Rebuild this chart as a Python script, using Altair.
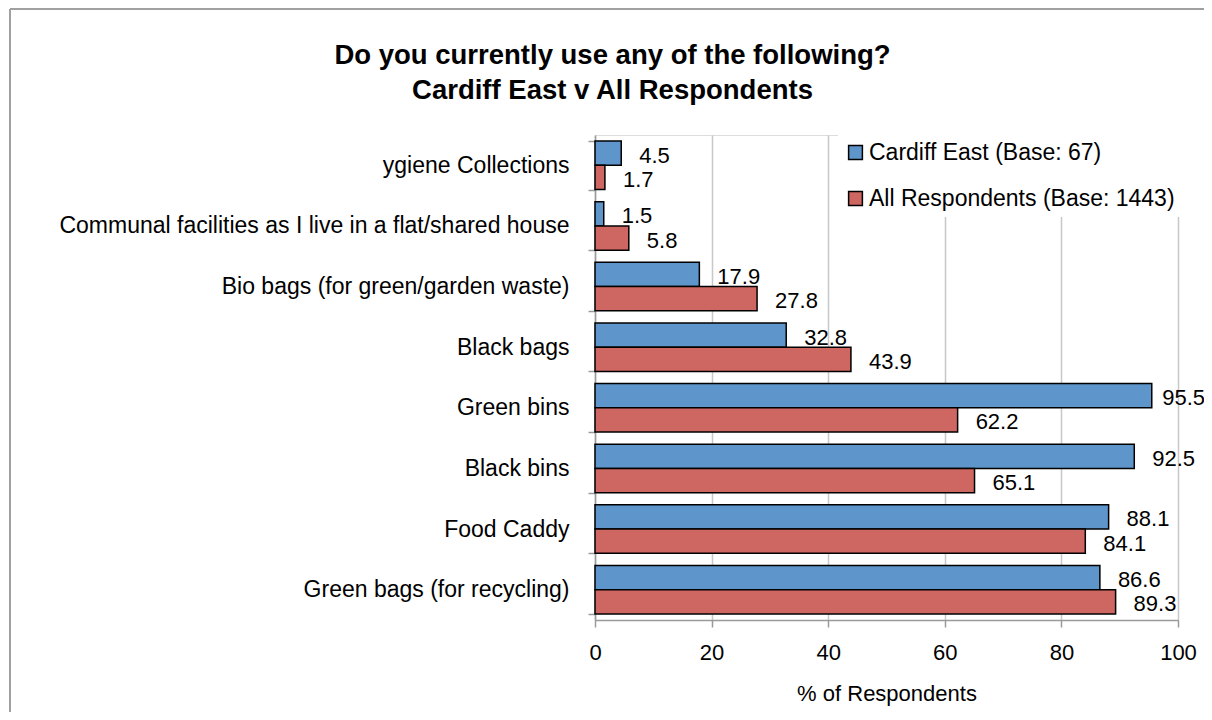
import altair as alt
import pandas as pd

categories = [
    "ygiene Collections\u00a0",
    "Communal facilities as I live in a flat/shared house",
    "Bio bags (for green/garden waste)",
    "Black bags",
    "Green bins",
    "Black bins",
    "Food Caddy",
    "Green bags (for recycling)",
]
series = ["Cardiff East (Base: 67)", "All Respondents (Base: 1443)"]
cardiff_east = [4.5, 1.5, 17.9, 32.8, 95.5, 92.5, 88.1, 86.6]
all_respondents = [1.7, 5.8, 27.8, 43.9, 62.2, 65.1, 84.1, 89.3]
colors = ["#5E95CB", "#CE6661"]
x_ticks = [0, 20, 40, 60, 80, 100]

rows = []
for i, c in enumerate(categories):
    rows.append({"cat": c, "series": series[0], "value": cardiff_east[i]})
    rows.append({"cat": c, "series": series[1], "value": all_respondents[i]})
df = pd.DataFrame(rows)

FONT = "Liberation Sans"

y_enc = alt.Y(
    "cat:N",
    sort=categories,
    scale=alt.Scale(paddingInner=0.2, paddingOuter=0.1),
    axis=alt.Axis(
        title=None,
        labelFontSize=23,
        labelFont=FONT,
        labelColor="#000000",
        labelPadding=19,
        labelLimit=700,
        tickBand="extent",
        tickSize=7,
        tickColor="#9a9a9a",
        tickWidth=1.5,
        domainColor="#9a9a9a",
        domainWidth=1.5,
        grid=False,
    ),
)
x_enc = alt.X(
    "value:Q",
    scale=alt.Scale(domain=[0, 100], nice=False),
    axis=alt.Axis(
        title="% of Respondents",
        values=x_ticks,
        titleFontSize=22,
        titleFont=FONT,
        titleFontWeight="normal",
        titleColor="#000000",
        titlePadding=20,
        labelFontSize=22,
        labelFont=FONT,
        labelColor="#000000",
        labelPadding=15,
        labelFlush=False,
        tickSize=7,
        tickColor="#9a9a9a",
        tickWidth=1.5,
        domainColor="#9a9a9a",
        domainWidth=1.5,
        grid=True,
        gridColor="#c8c8c8",
        gridWidth=1.5,
    ),
)
yoff = alt.YOffset("series:N", sort=series)

bars = alt.Chart(df).mark_bar(stroke="#000000", strokeWidth=1.5).encode(
    y=y_enc,
    x=x_enc,
    yOffset=yoff,
    color=alt.Color(
        "series:N",
        sort=series,
        scale=alt.Scale(domain=series, range=colors),
        legend=alt.Legend(
            title=None,
            orient="none",
            legendX=243,
            legendY=0,
            symbolType="square",
            symbolSize=190,
            symbolStrokeColor="#000000",
            symbolStrokeWidth=1.5,
            labelFontSize=23,
            labelFont=FONT,
            labelColor="#000000",
            labelOffset=2,
            rowPadding=22,
            fillColor="#ffffff",
            padding=6,
            labelLimit=500,
        ),
    ),
)

# Like the spreadsheet, a label that would run past the chart edge is kept inside it
labels = alt.Chart(df).transform_calculate(
    lx="min(datum.value, 94.2)"
).mark_text(
    align="left", baseline="middle", dx=18, dy=2.5, fontSize=22, font=FONT, color="#000000"
).encode(
    y=alt.Y("cat:N", sort=categories),
    x=alt.X("lx:Q"),
    yOffset=yoff,
    text=alt.Text("value:Q", format=".1f"),
)

border_top = alt.Chart(df).mark_rule(color="#a0a0a0", strokeWidth=2).encode(
    x=alt.value(-585), x2=alt.value(700), y=alt.value(-126)
)
border_left = alt.Chart(df).mark_rule(color="#a0a0a0", strokeWidth=2).encode(
    x=alt.value(-585), y=alt.value(-126), y2=alt.value(620)
)

chart = (
    alt.layer(border_top, border_left, bars, labels)
    .properties(
        width=583,
        height=485,
        padding={"left": 587, "top": 127, "right": 26, "bottom": 92},
        autosize=alt.AutoSizeParams(type="none"),
        title=alt.TitleParams(
            text=["Do you currently use any of the following?", "Cardiff East v All Respondents"],
            fontSize=27.5,
            font=FONT,
            fontWeight="bold",
            color="#000000",
            lineHeight=35,
            anchor="middle",
            frame="group",
            dx=-274,
            offset=-96,
        ),
    )
    .configure_view(stroke=None)
    .configure(background="#ffffff")
)

chart.save("out.html", embed_options={"renderer": "svg", "actions": False})
